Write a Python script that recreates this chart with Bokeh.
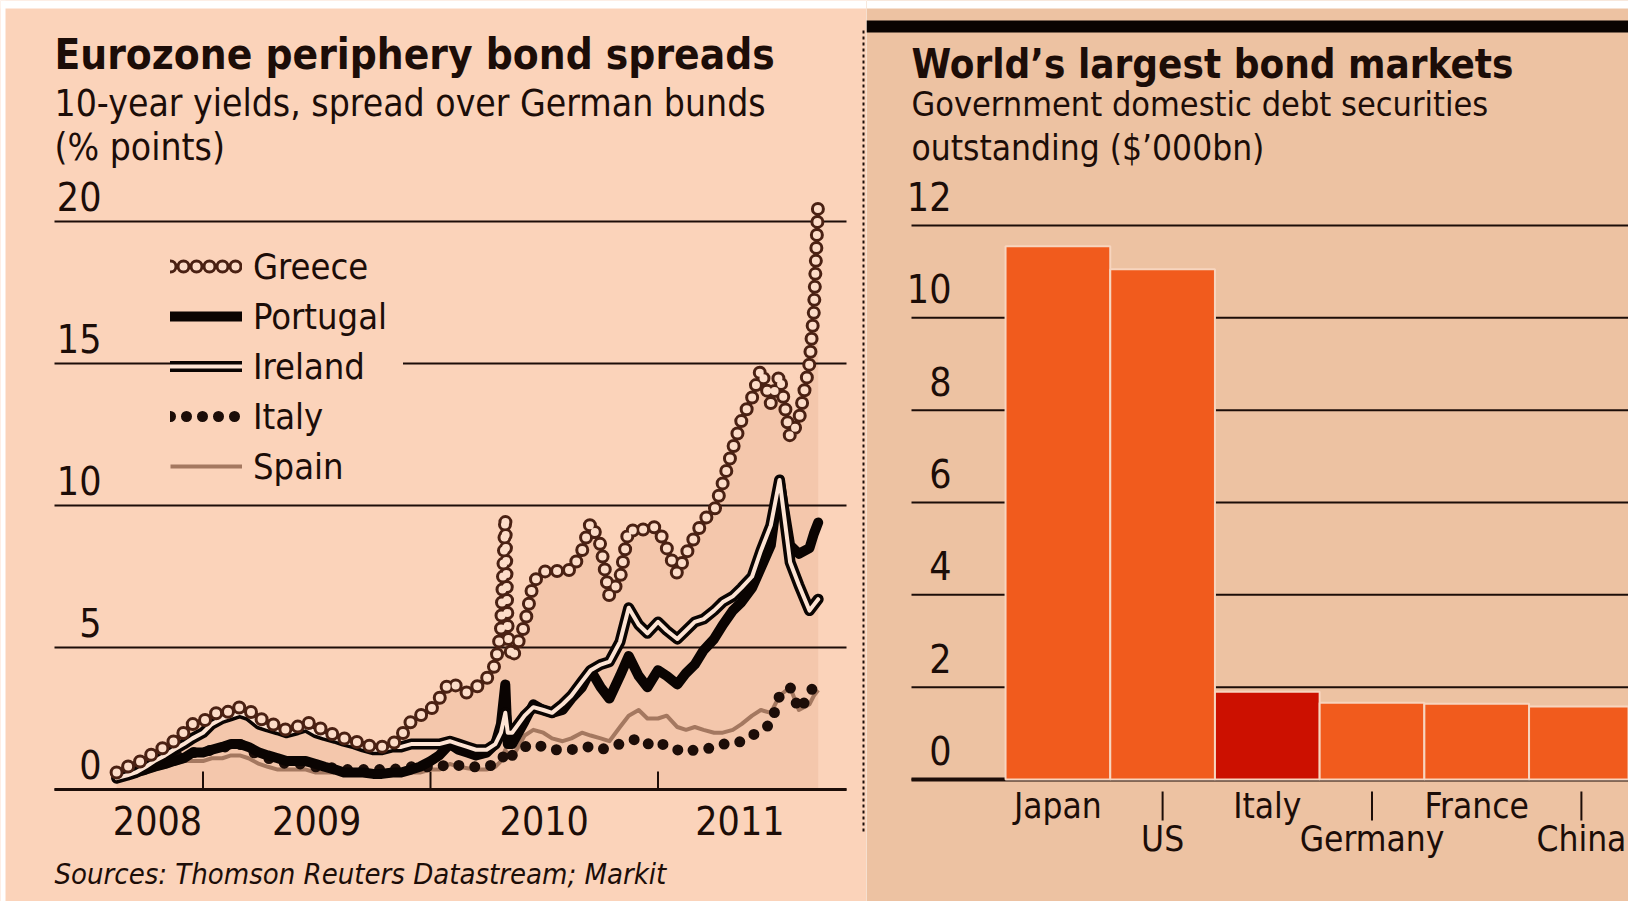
import numpy as np
import pandas as pd
from bokeh.plotting import figure
from bokeh.models import Label, Range1d, Legend, LegendItem, BoxAnnotation, ColumnDataSource
from bokeh.layouts import row
from bokeh.core.properties import value
from bokeh.embed import file_html
from bokeh.resources import INLINE

# ---------------- data: left chart (spreads over bunds, % points) ----------------
dates = [
    "2008-08-15", "2008-09-01", "2008-09-15", "2008-10-01", "2008-10-15", "2008-11-01", "2008-11-15", "2008-12-01", "2008-12-15",
    "2009-01-01", "2009-01-15", "2009-02-01", "2009-02-15", "2009-03-01", "2009-03-15", "2009-04-01", "2009-04-15",
    "2009-05-01", "2009-05-15", "2009-06-01", "2009-06-15", "2009-07-01", "2009-07-15", "2009-08-01", "2009-08-15",
    "2009-09-01", "2009-09-15", "2009-10-01", "2009-10-15", "2009-11-01", "2009-11-15", "2009-12-01", "2009-12-15",
    "2010-01-01", "2010-01-15", "2010-02-01", "2010-02-15", "2010-03-01", "2010-03-15", "2010-04-01", "2010-04-15",
    "2010-04-24", "2010-05-01", "2010-05-05", "2010-05-12", "2010-06-01", "2010-06-15", "2010-07-01", "2010-07-15",
    "2010-08-01", "2010-08-15", "2010-09-01", "2010-09-15", "2010-10-01", "2010-10-15", "2010-11-01", "2010-11-15",
    "2010-12-01", "2010-12-15",
    "2011-01-01", "2011-01-15", "2011-02-01", "2011-02-15", "2011-03-01", "2011-03-15", "2011-04-01", "2011-04-15",
    "2011-05-01", "2011-05-15", "2011-06-01", "2011-06-15", "2011-07-01", "2011-07-15", "2011-08-01", "2011-08-15",
    "2011-09-01", "2011-09-08", "2011-09-15",
]
greece = [0.6, 0.8, 0.9, 1.1, 1.3, 1.5, 1.7, 2.0, 2.3,
          2.4, 2.6, 2.8, 2.7, 2.9, 2.8, 2.5, 2.4, 2.2, 2.1, 2.2, 2.4, 2.2, 2.1, 1.9, 1.8, 1.7, 1.6, 1.5, 1.5, 1.6, 1.9, 2.4, 2.6,
          2.8, 3.2, 3.8, 3.6, 3.4, 3.6, 3.9, 4.4, 5.6, 9.6, 5.4, 4.6, 5.8, 7.3, 7.7, 7.6, 7.8, 7.7, 8.4, 9.4, 8.6, 6.8, 7.4, 9.2, 9.0, 9.3,
          9.2, 8.5, 7.6, 8.3, 8.9, 9.5, 9.8, 10.8, 12.0, 13.0, 13.8, 14.8, 13.6, 14.6, 12.4, 13.0, 15.0, 16.8, 20.7]
portugal = [0.5, 0.55, 0.6, 0.7, 0.8, 0.9, 1.0, 1.1, 1.3,
            1.3, 1.4, 1.5, 1.6, 1.6, 1.5, 1.3, 1.2, 1.1, 1.0, 1.0, 1.0, 0.9, 0.8, 0.7, 0.6, 0.6, 0.6, 0.55, 0.55, 0.6, 0.6, 0.7, 0.8,
            1.0, 1.2, 1.6, 1.4, 1.3, 1.2, 1.3, 1.6, 2.3, 3.7, 1.6, 1.6, 2.4, 3.0, 2.8, 2.7, 2.8, 3.2, 3.6, 4.2, 3.6, 3.2, 4.0, 4.7, 4.0, 3.6,
            4.2, 4.0, 3.7, 4.1, 4.4, 4.9, 5.3, 5.8, 6.3, 6.6, 7.1, 7.8, 8.6, 10.9, 8.6, 8.3, 8.5, 9.0, 9.4]
ireland = [0.4, 0.5, 0.6, 0.8, 1.0, 1.2, 1.4, 1.6, 1.8,
           2.0, 2.3, 2.5, 2.6, 2.7, 2.6, 2.3, 2.2, 2.1, 2.0, 2.1, 2.2, 2.0, 1.9, 1.8, 1.7, 1.6, 1.5, 1.4, 1.4, 1.5, 1.5, 1.6, 1.6,
           1.6, 1.6, 1.7, 1.6, 1.5, 1.4, 1.4, 1.6, 2.0, 2.7, 2.0, 2.0, 2.6, 2.9, 2.8, 2.7, 3.0, 3.3, 3.8, 4.2, 4.4, 4.5, 5.2, 6.4, 5.8, 5.5,
           5.9, 5.6, 5.3, 5.6, 5.9, 6.0, 6.3, 6.6, 6.8, 7.1, 7.5, 8.4, 9.3, 10.9, 8.0, 7.2, 6.3, 6.5, 6.7]
italy = [0.6, 0.65, 0.7, 0.8, 0.9, 1.0, 1.1, 1.2, 1.3,
         1.3, 1.4, 1.5, 1.5, 1.6, 1.4, 1.2, 1.1, 1.0, 0.9, 0.9, 0.9, 0.8, 0.8, 0.75, 0.7, 0.7, 0.7, 0.7, 0.7, 0.7, 0.75, 0.8, 0.8,
         0.8, 0.8, 0.9, 0.85, 0.8, 0.8, 0.8, 0.9, 1.0, 1.3, 1.4, 1.2, 1.5, 1.6, 1.5, 1.4, 1.4, 1.4, 1.5, 1.5, 1.4, 1.5, 1.6, 1.7, 1.8, 1.6,
         1.7, 1.5, 1.4, 1.3, 1.4, 1.4, 1.5, 1.6, 1.6, 1.7, 1.9, 2.1, 2.3, 3.3, 3.6, 2.8, 3.3, 3.7, 3.9]
spain = [0.4, 0.45, 0.5, 0.6, 0.7, 0.8, 0.9, 1.0, 1.0,
         1.0, 1.1, 1.1, 1.2, 1.2, 1.1, 0.9, 0.8, 0.7, 0.7, 0.7, 0.7, 0.6, 0.6, 0.6, 0.55, 0.55, 0.55, 0.5, 0.5, 0.55, 0.6, 0.6, 0.6,
         0.7, 0.7, 0.9, 0.8, 0.75, 0.7, 0.7, 0.8, 1.0, 1.4, 1.2, 1.1, 1.9, 2.1, 2.0, 1.8, 1.7, 1.8, 2.0, 1.9, 1.8, 1.7, 2.2, 2.6, 2.8, 2.5,
         2.5, 2.6, 2.2, 2.1, 2.2, 2.1, 2.0, 2.0, 2.1, 2.3, 2.6, 2.8, 2.7, 3.3, 3.6, 2.8, 3.0, 3.3, 3.5]
left_yticks = [0, 5, 10, 15, 20]
left_ytick_labels = ["0", "5", "10", "15", "20"]
year_ticks = [2009, 2010, 2011]
year_labels = ["2008", "2009", "2010", "2011"]
year_label_pos = [2008.80, 2009.50, 2010.50, 2011.36]

# ---------------- data: right chart ----------------
countries = ["Japan", "US", "Italy", "Germany", "France", "China"]
debt = [11.55, 11.05, 1.90, 1.66, 1.64, 1.58]
right_yticks = [0, 2, 4, 6, 8, 10, 12]
right_ytick_labels = ["0", "2", "4", "6", "8", "10", "12"]

# ---------------- style ----------------
FONT = "DejaVu Sans Condensed"
INK = "#1c0d08"
BG_L = "#fbd3ba"
BG_R = "#edc2a2"
SHADE = "#ecb99c"
ORANGE = "#f15b1d"
RED = "#cc1000"
H = 901
WL, WR = 866, 762

# ================= LEFT FIGURE =================
ppy = 227.5                      # px per year
x0L = 2009 - 202.5 / ppy
x1L = x0L + WL / ppy
ppu = 28.4                       # px per % point
y1L = 789 / ppu
y0L = -(H - 789) / ppu

def lx(px):
    return x0L + px / ppy

def ly(py):
    return y1L - py / ppu

pl = figure(width=WL, height=H, output_backend="svg", toolbar_location=None,
            x_range=Range1d(x0L, x1L), y_range=Range1d(y0L, y1L), min_border=0)
pl.axis.visible = False
pl.grid.visible = False
pl.outline_line_color = None
pl.background_fill_color = BG_L
pl.border_fill_color = BG_L

dt = pd.to_datetime(dates)
yr = np.asarray(dt.year + (dt.dayofyear - 1) / np.where(dt.is_leap_year, 366, 365), dtype=float)
src = ColumnDataSource(dict(x=yr, greece=greece, portugal=portugal, ireland=ireland, italy=italy, spain=spain,
                            zero=[0] * len(yr)))

pl.varea(x="x", y1="zero", y2="greece", source=src, fill_color=SHADE, fill_alpha=0.45)

gx0, gx1 = lx(54), lx(846)
pl.segment(x0=[gx0] * len(left_yticks), x1=[gx1] * len(left_yticks), y0=left_yticks, y1=left_yticks,
           line_color=INK, line_width=2)
pl.segment(x0=[gx0], x1=[gx1], y0=[0], y1=[0], line_color=INK, line_width=3)
pl.segment(x0=year_ticks, x1=year_ticks, y0=[0] * 3, y1=[18 / ppu] * 3, line_color=INK, line_width=2)

pl.text(x=[lx(101)] * len(left_yticks), y=left_yticks, text=left_ytick_labels, text_align="right",
        text_baseline="middle", y_offset=-25, text_font=value(FONT), text_font_size="39px", text_color=INK)
pl.text(x=year_label_pos, y=[0] * 4, text=year_labels, text_align="center", text_baseline="middle",
        y_offset=31, text_font=value(FONT), text_font_size="39px", text_color=INK)

r_spain = pl.line("x", "spain", source=src, line_color="#a47860", line_width=4, line_join="round")
r_italy = pl.line("x", "italy", source=src, line_color=INK, line_width=11, line_dash="0 16", line_cap="round")
r_port = pl.line("x", "portugal", source=src, line_color="#0a0402", line_width=10, line_join="round", line_cap="round")
r_ire_o = pl.line("x", "ireland", source=src, line_color="#0a0402", line_width=11, line_join="round", line_cap="round")
r_ire_i = pl.line("x", "ireland", source=src, line_color="#fde4d4", line_width=4, line_join="round", line_cap="round")
r_gr_o = pl.line("x", "greece", source=src, line_color="#4a2113", line_width=14, line_dash="0 13", line_cap="round")
r_gr_i = pl.line("x", "greece", source=src, line_color="#fcdcc8", line_width=8, line_dash="0 13", line_cap="round")

legend = Legend(items=[
    LegendItem(label="Greece", renderers=[r_gr_o, r_gr_i]),
    LegendItem(label="Portugal", renderers=[r_port]),
    LegendItem(label="Ireland", renderers=[r_ire_o, r_ire_i]),
    LegendItem(label="Italy", renderers=[r_italy]),
    LegendItem(label="Spain", renderers=[r_spain]),
], location=(170, 413), orientation="vertical", glyph_width=72, glyph_height=44, label_height=44,
    label_width=150, label_standoff=11, spacing=6, padding=10, margin=0,
    label_text_font=FONT, label_text_font_size="36px", label_text_color=INK,
    background_fill_color=BG_L, background_fill_alpha=1.0, border_line_color=None)
pl.add_layout(legend, "center")

# separator (dotted) and the white strips of the page edge
pl.segment(x0=[lx(863)], x1=[lx(863)], y0=[ly(30)], y1=[ly(833)], line_color=INK, line_width=2, line_dash="3 3")
pl.add_layout(BoxAnnotation(left=0, right=WL, top=H, bottom=H - 8, left_units="screen", right_units="screen",
                            top_units="screen", bottom_units="screen", fill_color="white", fill_alpha=1.0,
                            line_color=None))
pl.add_layout(BoxAnnotation(left=0, right=5, top=H, bottom=0, left_units="screen", right_units="screen",
                            top_units="screen", bottom_units="screen", fill_color="white", fill_alpha=1.0,
                            line_color=None))

pl.add_layout(Label(x=54, y=H - 54, x_units="screen", y_units="screen", text="Eurozone periphery bond spreads",
                    text_font=FONT, text_font_style="bold", text_font_size="42px", text_color=INK,
                    text_baseline="middle"))
pl.add_layout(Label(x=54, y=H - 103, x_units="screen", y_units="screen", text="10-year yields, spread over German bunds",
                    text_font=FONT, text_font_size="37px", text_color=INK, text_baseline="middle"))
pl.add_layout(Label(x=54, y=H - 147, x_units="screen", y_units="screen", text="(% points)",
                    text_font=FONT, text_font_size="37px", text_color=INK, text_baseline="middle"))
pl.add_layout(Label(x=54, y=28, x_units="screen", y_units="screen", text="Sources: Thomson Reuters Datastream; Markit",
                    text_font=FONT, text_font_style="italic", text_font_size="29px", text_color=INK,
                    text_baseline="middle"))

# ================= RIGHT FIGURE =================
ppc = 104.7                      # px per category
x0R = -191.4 / ppc
x1R = x0R + WR / ppc
ppv = 46.17                      # px per $'000bn
y1R = 779 / ppv
y0R = -(H - 779) / ppv

def rx(px):
    return x0R + px / ppc

pr = figure(width=WR, height=H, output_backend="svg", toolbar_location=None,
            x_range=Range1d(x0R, x1R), y_range=Range1d(y0R, y1R), min_border=0)
pr.axis.visible = False
pr.grid.visible = False
pr.outline_line_color = None
pr.background_fill_color = BG_R
pr.border_fill_color = BG_R

rgx0 = rx(45)
pr.segment(x0=[rgx0] * len(right_yticks), x1=[x1R] * len(right_yticks), y0=right_yticks, y1=right_yticks,
           line_color=INK, line_width=2)
pr.segment(x0=[rgx0], x1=[x1R], y0=[0], y1=[0], line_color=INK, line_width=4)

idx = list(range(len(countries)))
bar_colors = [RED if c == "Italy" else ORANGE for c in countries]
pr.vbar(x=idx, top=debt, bottom=0, width=1.0, fill_color=bar_colors, line_color="#f7d5bf", line_width=2)

pr.text(x=[rx(85)] * len(right_yticks), y=right_yticks, text=right_ytick_labels, text_align="right",
        text_baseline="middle", y_offset=-29, text_font=value(FONT), text_font_size="39px", text_color=INK)

row1 = [i for i in idx if i % 2 == 0]
row2 = [i for i in idx if i % 2 == 1]
pr.text(x=row1, y=[0] * len(row1), text=[countries[i] for i in row1], text_align="center", text_baseline="middle",
        y_offset=26, text_font=value(FONT), text_font_size="35px", text_color=INK)
pr.text(x=row2, y=[0] * len(row2), text=[countries[i] for i in row2], text_align="center", text_baseline="middle",
        y_offset=59, text_font=value(FONT), text_font_size="35px", text_color=INK)
pr.segment(x0=row2, x1=row2, y0=[-12 / ppv] * len(row2), y1=[-41 / ppv] * len(row2), line_color=INK, line_width=2)

pr.add_layout(BoxAnnotation(left=0, right=WR, top=H, bottom=H - 8, left_units="screen", right_units="screen",
                            top_units="screen", bottom_units="screen", fill_color="white", fill_alpha=1.0,
                            line_color=None))
pr.add_layout(BoxAnnotation(left=0, right=WR, top=H - 20, bottom=H - 32, left_units="screen", right_units="screen",
                            top_units="screen", bottom_units="screen", fill_color="#0a0402", fill_alpha=1.0,
                            line_color=None))
pr.add_layout(Label(x=45, y=H - 63, x_units="screen", y_units="screen", text="World\u2019s largest bond markets",
                    text_font=FONT, text_font_style="bold", text_font_size="40px", text_color=INK,
                    text_baseline="middle"))
pr.add_layout(Label(x=45, y=H - 103, x_units="screen", y_units="screen", text="Government domestic debt securities",
                    text_font=FONT, text_font_size="34px", text_color=INK, text_baseline="middle"))
pr.add_layout(Label(x=45, y=H - 147, x_units="screen", y_units="screen", text="outstanding ($\u2019000bn)",
                    text_font=FONT, text_font_size="35px", text_color=INK, text_baseline="middle"))

layout = row(pl, pr, spacing=0)
open("out.html", "w").write(file_html(layout, INLINE))
